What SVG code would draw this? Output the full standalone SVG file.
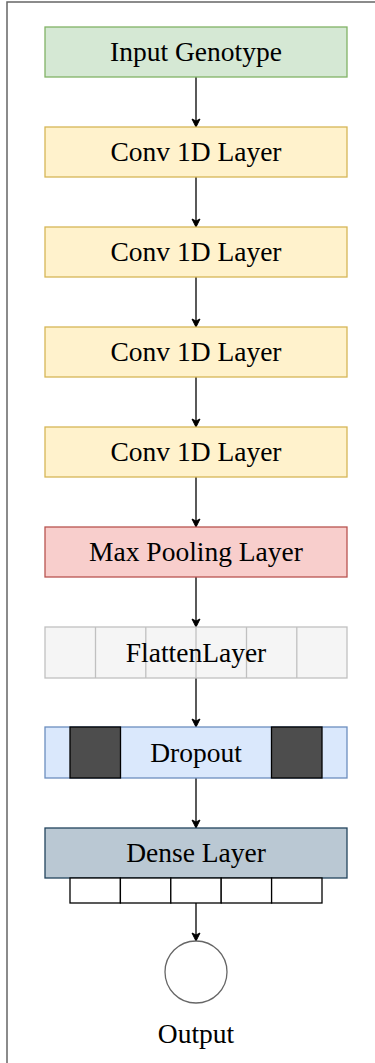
<svg xmlns="http://www.w3.org/2000/svg" width="375" height="1063" viewBox="0 0 375 1063">
<defs>
<marker id="ah" markerWidth="10" markerHeight="10" refX="9" refY="5" orient="auto" markerUnits="userSpaceOnUse">
<path d="M1,1 L9,5 L1,9 L3,5 Z" fill="#000" stroke="#000" stroke-width="1"/>
</marker>
</defs>
<style>
text{font-family:"Liberation Serif","Times New Roman",serif;font-size:27.5px;fill:#000;text-anchor:middle}
.edge{stroke:#000;stroke-width:1.3;fill:none;marker-end:url(#ah)}
.g{fill:#d5e8d4;stroke:#82b366;stroke-width:1.3}
.y{fill:#fff2cc;stroke:#d6b656;stroke-width:1.3}
.r{fill:#f8cecc;stroke:#b85450;stroke-width:1.3}
.f{fill:#f5f5f5;stroke:#c0c0c0;stroke-width:1.3}
.b{fill:#dae8fc;stroke:#6c8ebf;stroke-width:1.3}
.d{fill:#bac8d3;stroke:#23445d;stroke-width:1.3}
.blk{fill:#4d4d4d;stroke:#000;stroke-width:1.3}
.cell{fill:#fff;stroke:#000;stroke-width:1.3}
</style>
<rect width="375" height="1063" fill="#fff"/>
<g id="frame"><path d="M7,1063 V2 H375" fill="none" stroke="#666" stroke-width="1.5"/></g>
<g id="connectors">
<line class="edge" x1="196" y1="77" x2="196" y2="127"/>
<line class="edge" x1="196" y1="177" x2="196" y2="227"/>
<line class="edge" x1="196" y1="277" x2="196" y2="327"/>
<line class="edge" x1="196" y1="377" x2="196" y2="427"/>
<line class="edge" x1="196" y1="477" x2="196" y2="527"/>
<line class="edge" x1="196" y1="577" x2="196" y2="627"/>
<line class="edge" x1="196" y1="678" x2="196" y2="727"/>
<line class="edge" x1="196" y1="778" x2="196" y2="828"/>
<line class="edge" x1="196" y1="903" x2="196" y2="941"/>
</g>
<g id="input"><rect class="g" x="45" y="27" width="302" height="50"/><text x="196" y="61">Input Genotype</text></g>
<g id="conv1"><rect class="y" x="45" y="127" width="302" height="50"/><text x="196" y="161">Conv 1D Layer</text></g>
<g id="conv2"><rect class="y" x="45" y="227" width="302" height="50"/><text x="196" y="261">Conv 1D Layer</text></g>
<g id="conv3"><rect class="y" x="45" y="327" width="302" height="50"/><text x="196" y="361">Conv 1D Layer</text></g>
<g id="conv4"><rect class="y" x="45" y="427" width="302" height="50"/><text x="196" y="461">Conv 1D Layer</text></g>
<g id="maxpool"><rect class="r" x="45" y="527" width="302" height="50"/><text x="196" y="561">Max Pooling Layer</text></g>
<g id="flatten">
<rect class="f" x="45" y="627" width="302" height="51"/>
<path d="M95.5,627V678M145.8,627V678M196,627V678M246.5,627V678M296.8,627V678" stroke="#c0c0c0" stroke-width="1.3"/>
<text x="196" y="662">FlattenLayer</text>
</g>
<g id="dropout">
<rect class="b" x="45" y="727" width="302" height="51"/>
<rect class="blk" x="70" y="727" width="50.5" height="51"/>
<rect class="blk" x="271.5" y="727" width="50.5" height="51"/>
<text x="196" y="762">Dropout</text>
</g>
<g id="dense">
<rect class="d" x="45" y="828" width="302" height="50"/>
<rect class="cell" x="70" y="878" width="50.4" height="25"/>
<rect class="cell" x="120.4" y="878" width="50.4" height="25"/>
<rect class="cell" x="170.8" y="878" width="50.4" height="25"/>
<rect class="cell" x="221.2" y="878" width="50.4" height="25"/>
<rect class="cell" x="271.6" y="878" width="50.4" height="25"/>
<text x="196" y="862">Dense Layer</text>
</g>
<g id="output">
<circle cx="196" cy="972" r="31" fill="#fff" stroke="#666" stroke-width="1.3"/>
<text x="196" y="1043">Output</text>
</g>
</svg>
